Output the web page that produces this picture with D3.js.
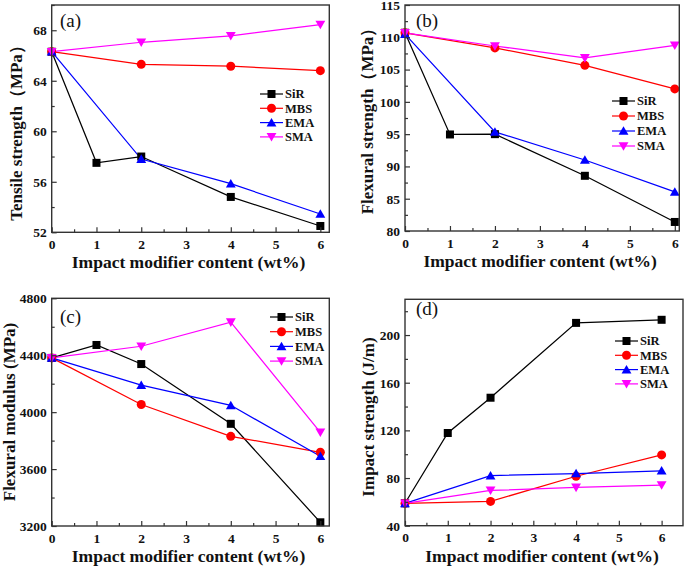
<!DOCTYPE html>
<html><head><meta charset="utf-8">
<script src="https://cdn.jsdelivr.net/npm/d3@7"></script>
<style>body{margin:0;background:#fff}svg{display:block}</style>
</head><body>
<svg id="c" width="685" height="567"></svg>
<script>
const xVals = [0, 1, 2, 4, 6];
const xVals2 = [0, 2, 4, 6];
const seriesNames = ["SiR", "MBS", "EMA", "SMA"];
const colors = ["#000000", "#ff0000", "#0000ff", "#ff00ff"];

// (a) Tensile strength
const tensileSiR = [66.3, 57.5, 58.0, 54.8, 52.5];
const tensileMBS = [66.3, 65.3, 65.15, 64.8];
const tensileEMA = [66.3, 57.8, 55.85, 53.45];
const tensileSMA = [66.3, 67.05, 67.55, 68.45];
// (b) Flexural strength
const flexSiR = [110.7, 94.95, 95.0, 88.55, 81.4];
const flexMBS = [110.7, 108.35, 105.65, 102.0];
const flexEMA = [110.5, 95.35, 91.0, 86.05];
const flexSMA = [110.7, 108.65, 106.8, 108.75];
// (c) Flexural modulus
const modSiR = [4381, 4472, 4338, 3918, 3226];
const modMBS = [4381, 4054, 3830, 3718];
const modEMA = [4381, 4190, 4048, 3690];
const modSMA = [4381, 4463, 4632, 3858];
// (d) Impact strength
const impSiR = [58.8, 117.8, 147.4, 210.2, 212.8];
const impMBS = [58.8, 60.4, 81.5, 99.4];
const impEMA = [58.8, 82.0, 83.8, 86.1];
const impSMA = [58.8, 69.6, 72.1, 74.0];

const xTicks = [0, 1, 2, 3, 4, 5, 6];
const yTicksA = [52, 56, 60, 64, 68];
const yTicksB = [80, 85, 90, 95, 100, 105, 110, 115];
const yTicksC = [3200, 3600, 4000, 4400, 4800];
const yTicksD = [40, 80, 120, 160, 200];

const xTitle = "Impact modifier content (wt%)";

const panels = [
  {tag:"(a)", ytitle:"Tensile strength（MPa）", L:51.7, R:329.3, T:5, B:232.3, xd:[0,6.2], yd:[52,70], yt:yTicksA, ym:2,
   data:[tensileSiR, tensileMBS, tensileEMA, tensileSMA], leg:{x:260, y:94, dy:14.3}, tagPos:[60,27], ytx:16, yty:129},
  {tag:"(b)", ytitle:"Flexural strength（MPa）", L:405, R:679.3, T:5, B:231, xd:[0,6.1], yd:[80,115], yt:yTicksB, ym:2.5,
   data:[flexSiR, flexMBS, flexEMA, flexSMA], leg:{x:612, y:101, dy:15}, tagPos:[416,27], ytx:367, yty:117},
  {tag:"(c)", ytitle:"Flexural modulus (MPa)", L:51.7, R:329.3, T:298.3, B:526, xd:[0,6.2], yd:[3200,4800], yt:yTicksC, ym:200,
   data:[modSiR, modMBS, modEMA, modSMA], leg:{x:270, y:317, dy:14.7}, tagPos:[60,323], ytx:9, yty:412},
  {tag:"(d)", ytitle:"Impact strength (J/m)", L:405, R:683, T:299.3, B:525.7, xd:[0,6.5], yd:[40,230], yt:yTicksD, ym:20,
   data:[impSiR, impMBS, impEMA, impSMA], leg:{x:615, y:341, dy:14.3}, tagPos:[416,315], ytx:368, yty:417}
];

const svg = d3.select("#c");
const font = "'Liberation Serif','Times New Roman',serif";

function marker(g, i, x, y) {
  const c = colors[i];
  if (i === 0) g.append("rect").attr("x", x-4).attr("y", y-4).attr("width", 8).attr("height", 8).attr("fill", c);
  else if (i === 1) g.append("circle").attr("cx", x).attr("cy", y).attr("r", 4.5).attr("fill", c);
  else {
    const sym = d3.symbol().type(d3.symbolTriangle).size(42);
    g.append("path").attr("d", sym()).attr("fill", c)
      .attr("transform", `translate(${x},${y + (i===3 ? -1 : 1)}) rotate(${i===3 ? 180 : 0})`);
  }
}

panels.forEach(p => {
  const g = svg.append("g");
  const x = d3.scaleLinear().domain(p.xd).range([p.L, p.R]);
  const y = d3.scaleLinear().domain(p.yd).range([p.B, p.T]);

  // series
  p.data.forEach((vals, i) => {
    const xs = vals.length === 5 ? xVals : xVals2;
    const pts = vals.map((v, k) => [x(xs[k]), y(v)]);
    g.append("path").attr("d", d3.line()(pts)).attr("fill", "none")
      .attr("stroke", colors[i]).attr("stroke-width", 1.25);
  });
  p.data.forEach((vals, i) => {
    const xs = vals.length === 5 ? xVals : xVals2;
    vals.forEach((v, k) => marker(g, i, x(xs[k]), y(v)));
  });

  // frame
  g.append("rect").attr("x", p.L).attr("y", p.T).attr("width", p.R - p.L).attr("height", p.B - p.T)
    .attr("fill", "none").attr("stroke", "#333").attr("stroke-width", 1.4);

  // x axis
  const xa = d3.axisBottom(x).tickValues(xTicks).tickSize(-5).tickFormat(d3.format("d")).tickPadding(7);
  g.append("g").attr("transform", `translate(0,${p.B})`).call(xa);
  const xMinor = d3.range(0.5, p.xd[1], 1);
  g.append("g").attr("transform", `translate(0,${p.B})`)
    .call(d3.axisBottom(x).tickValues(xMinor).tickSize(-3).tickFormat(""));
  // y axis
  const ya = d3.axisLeft(y).tickValues(p.yt).tickSize(-5).tickPadding(5).tickFormat(d3.format("d"));
  g.append("g").attr("transform", `translate(${p.L},0)`).call(ya);
  const yMinor = d3.range(p.yd[0] + p.ym, p.yd[1] + 0.001, p.ym * 2);
  g.append("g").attr("transform", `translate(${p.L},0)`)
    .call(d3.axisLeft(y).tickValues(yMinor).tickSize(-3).tickFormat(""));
  g.selectAll(".domain").remove();
  g.selectAll(".tick line").attr("stroke", "#333").attr("stroke-width", 1.2);
  g.selectAll(".tick text").attr("font-family", font).attr("font-weight", "bold")
    .attr("font-size", 13.5).attr("fill", "#111");

  // titles
  g.append("text").attr("x", (p.L + p.R) / 2 - 2).attr("y", p.B + 36)
    .attr("text-anchor", "middle").attr("font-family", font).attr("font-weight", "bold")
    .attr("font-size", 17.5).attr("fill", "#111").text(xTitle);
  g.append("text").attr("transform", `translate(${p.ytx},${p.yty}) rotate(-90)`)
    .attr("text-anchor", "middle").attr("dy", "0.35em").attr("font-family", font).attr("font-weight", "bold")
    .attr("font-size", 17).attr("fill", "#111").text(p.ytitle);
  g.append("text").attr("x", p.tagPos[0]).attr("y", p.tagPos[1])
    .attr("font-family", font).attr("font-size", 19).attr("fill", "#111").text(p.tag);

  // legend
  seriesNames.forEach((n, i) => {
    const ly = p.leg.y + i * p.leg.dy;
    g.append("line").attr("x1", p.leg.x).attr("x2", p.leg.x + 23).attr("y1", ly).attr("y2", ly)
      .attr("stroke", colors[i]).attr("stroke-width", 1.2);
    marker(g, i, p.leg.x + 11.5, ly);
    g.append("text").attr("x", p.leg.x + 25).attr("y", ly).attr("dy", "0.35em")
      .attr("font-family", font).attr("font-weight", "bold").attr("font-size", 12.5)
      .attr("fill", "#111").text(n);
  });
});
</script>
</body></html>
